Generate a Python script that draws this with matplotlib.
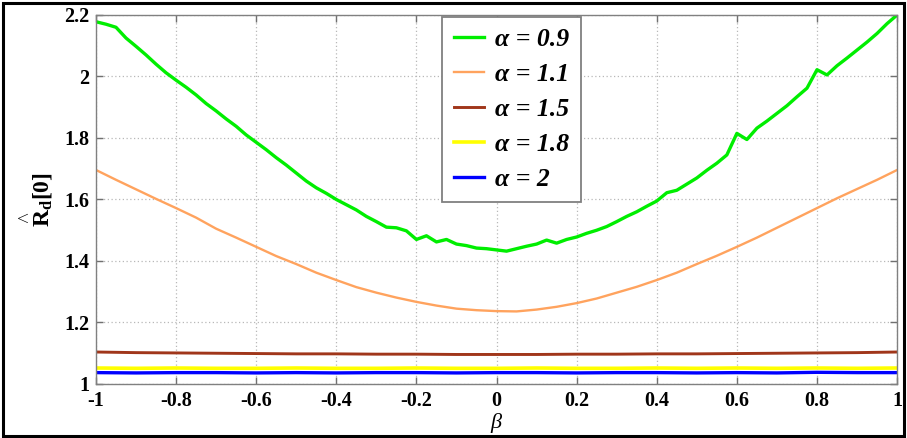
import numpy as np
import matplotlib
matplotlib.use("Agg")
import matplotlib.pyplot as plt
from matplotlib.patches import Rectangle

# ---- data -------------------------------------------------------------
beta_fine = [-1.000, -0.975, -0.950, -0.925, -0.900, -0.875, -0.850, -0.825,
             -0.800, -0.775, -0.750, -0.725, -0.700, -0.675, -0.650, -0.625,
             -0.600, -0.575, -0.550, -0.525, -0.500, -0.475, -0.450, -0.425,
             -0.400, -0.375, -0.350, -0.325, -0.300, -0.275, -0.250, -0.225,
             -0.200, -0.175, -0.150, -0.125, -0.100, -0.075, -0.050, -0.025,
             0.000, 0.025, 0.050, 0.075, 0.100, 0.125, 0.150, 0.175,
             0.200, 0.225, 0.250, 0.275, 0.300, 0.325, 0.350, 0.375,
             0.400, 0.425, 0.450, 0.475, 0.500, 0.525, 0.550, 0.575,
             0.600, 0.625, 0.650, 0.675, 0.700, 0.725, 0.750, 0.775,
             0.800, 0.825, 0.850, 0.875, 0.900, 0.925, 0.950, 0.975, 1.000]

r_alpha09 = [2.178, 2.170, 2.160, 2.125, 2.098, 2.070, 2.040, 2.012,
             1.988, 1.965, 1.940, 1.912, 1.888, 1.862, 1.838, 1.810,
             1.786, 1.762, 1.736, 1.712, 1.686, 1.660, 1.638, 1.620,
             1.600, 1.583, 1.566, 1.545, 1.528, 1.510, 1.508, 1.498,
             1.470, 1.482, 1.462, 1.470, 1.455, 1.450, 1.442, 1.440,
             1.436, 1.432, 1.440, 1.448, 1.455, 1.468, 1.458, 1.470,
             1.478, 1.490, 1.500, 1.512, 1.528, 1.545, 1.560, 1.578,
             1.595, 1.622, 1.630, 1.650, 1.670, 1.695, 1.718, 1.745,
             1.815, 1.795, 1.832, 1.855, 1.880, 1.905, 1.934, 1.962,
             2.022, 2.005, 2.035, 2.060, 2.086, 2.112, 2.140, 2.172, 2.200]

beta_mid = [-1.00, -0.95, -0.90, -0.85, -0.80, -0.75, -0.70, -0.65, -0.60,
            -0.55, -0.50, -0.45, -0.40, -0.35, -0.30, -0.25, -0.20, -0.15,
            -0.10, -0.05, 0.00, 0.05, 0.10, 0.15, 0.20, 0.25, 0.30, 0.35,
            0.40, 0.45, 0.50, 0.55, 0.60, 0.65, 0.70, 0.75, 0.80, 0.85,
            0.90, 0.95, 1.00]

r_alpha11 = [1.696, 1.664, 1.633, 1.602, 1.572, 1.541, 1.505, 1.476, 1.446,
             1.416, 1.390, 1.362, 1.338, 1.315, 1.297, 1.281, 1.267, 1.255,
             1.245, 1.240, 1.237, 1.236, 1.242, 1.251, 1.263, 1.278, 1.297,
             1.316, 1.338, 1.362, 1.390, 1.417, 1.446, 1.476, 1.508, 1.540,
             1.572, 1.604, 1.634, 1.664, 1.696]

beta_coarse = [-1.0, -0.9, -0.8, -0.7, -0.6, -0.5, -0.4, -0.3, -0.2, -0.1,
               0.0, 0.1, 0.2, 0.3, 0.4, 0.5, 0.6, 0.7, 0.8, 0.9, 1.0]

r_alpha15 = [1.104, 1.102, 1.101, 1.100, 1.099, 1.098, 1.098, 1.097, 1.097,
             1.096, 1.096, 1.096, 1.097, 1.097, 1.098, 1.098, 1.099, 1.100,
             1.101, 1.102, 1.104]
r_alpha18 = [1.052, 1.051, 1.052, 1.051, 1.051, 1.052, 1.051, 1.051, 1.052,
             1.051, 1.051, 1.052, 1.051, 1.051, 1.052, 1.051, 1.052, 1.051,
             1.052, 1.051, 1.052]
r_alpha20 = [1.037, 1.036, 1.037, 1.037, 1.036, 1.037, 1.036, 1.037, 1.037,
             1.036, 1.037, 1.037, 1.036, 1.037, 1.037, 1.036, 1.037, 1.036,
             1.038, 1.037, 1.037]

labels = ["α = 0.9", "α = 1.1", "α = 1.5", "α = 1.8", "α = 2"]
colors = ["#00EE00", "#FFA35E", "#A0361A", "#FFFF00", "#0000FF"]
widths = [2.4, 1.7, 2.1, 2.6, 2.4]

xticks = [-1, -0.8, -0.6, -0.4, -0.2, 0, 0.2, 0.4, 0.6, 0.8, 1]
xticklabels = ["-1", "-0.8", "-0.6", "-0.4", "-0.2", "0", "0.2", "0.4", "0.6", "0.8", "1"]
yticks = [1, 1.2, 1.4, 1.6, 1.8, 2, 2.2]
yticklabels = ["1", "1.2", "1.4", "1.6", "1.8", "2", "2.2"]

# ---- style ------------------------------------------------------------
plt.rcParams["mathtext.fontset"] = "custom"
plt.rcParams["mathtext.rm"] = "Liberation Serif:bold"
plt.rcParams["mathtext.bf"] = "Liberation Serif:bold"
plt.rcParams["mathtext.it"] = "Liberation Serif:italic"

serif = "Liberation Serif"

fig = plt.figure(figsize=(9.07, 4.38), dpi=100)
ax = fig.add_axes([0.1058, 0.1233, 0.8833, 0.8425])

series = [(beta_fine, r_alpha09), (beta_mid, r_alpha11),
          (beta_coarse, r_alpha15), (beta_coarse, r_alpha18),
          (beta_coarse, r_alpha20)]
for (xs, ys), lab, c, w in zip(series, labels, colors, widths):
    ax.plot(xs, ys, color=c, lw=w, label=lab, solid_joinstyle="round")

ax.set_xlim(-1, 1)
ax.set_ylim(1, 2.2)
ax.set_xticks(xticks)
ax.set_xticklabels(xticklabels, fontfamily=serif, fontweight="bold", fontsize=14.5)
ax.set_yticks(yticks)
ax.set_yticklabels(yticklabels, fontfamily=serif, fontweight="bold", fontsize=14.5)
ax.tick_params(direction="in", top=True, right=True, length=5, width=1,
               color="#707070", pad=5)
for sp in ax.spines.values():
    sp.set_color("#808080")
    sp.set_linewidth(1.0)
ax.grid(True, linestyle=(0, (1, 2)), color="#B8B8B8", lw=0.9)
ax.set_axisbelow(True)

ax.set_xlabel(r"$\beta$", fontsize=16, labelpad=0)
ax.set_ylabel(r"$\overset{\wedge}{\mathbf{R}}_{\mathbf{d}}\mathbf{[0]}$",
              fontsize=17, labelpad=6)

leg = ax.legend(loc="upper left", bbox_to_anchor=(0.4325, 0.995),
                prop={"family": serif, "style": "italic", "weight": "bold", "size": 18.5},
                handlelength=1.15, handletextpad=0.45, labelspacing=0.46,
                borderpad=0.45, borderaxespad=0, fancybox=False, framealpha=1)
leg.get_frame().set_edgecolor("#808080")
leg.get_frame().set_linewidth(1.3)

# outer frame around the whole figure
W, H = 907, 438
fig.patches.append(Rectangle((3 / W, 2.5 / H), 901 / W, 433 / H,
                             transform=fig.transFigure, fill=False,
                             ec="black", lw=2.2))

fig.savefig("out.png", dpi=100)
